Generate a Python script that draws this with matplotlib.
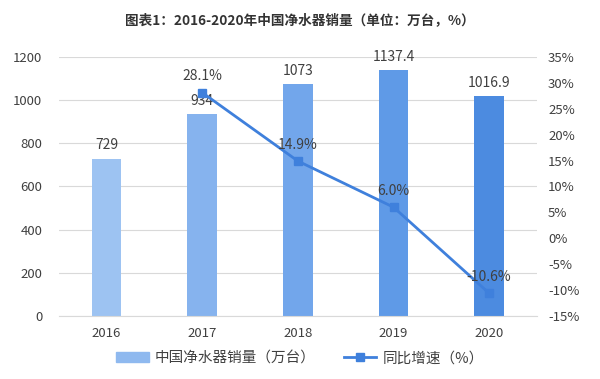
import matplotlib.pyplot as plt
from matplotlib.lines import Line2D
from matplotlib.patches import Patch

plt.rcParams['font.family'] = ['Noto Sans CJK SC', 'DejaVu Sans']

years = ["2016", "2017", "2018", "2019", "2020"]
sales = [729, 934, 1073, 1137.4, 1016.9]
sales_labels = ["729", "934", "1073", "1137.4", "1016.9"]
growth_years = ["2017", "2018", "2019", "2020"]
growth = [28.1, 14.9, 6.0, -10.6]

bar_colors = ["#9dc3f2", "#86b3ee", "#72a6eb", "#5f9ae7", "#4c8be0"]
line_color = "#3f80dc"
text_color = "#404040"

fig = plt.figure(figsize=(6, 3.79), dpi=100)
ax = fig.add_axes([0.098, 0.166, 0.797, 0.684])

x = list(range(len(years)))
bars = ax.bar(x, sales, width=0.31, color=bar_colors, zorder=2)
for i, b in enumerate(bars):
    ax.text(b.get_x() + b.get_width() / 2, b.get_height() + 30, sales_labels[i],
            ha="center", va="bottom", fontsize=10, color=text_color)

ax.set_ylim(0, 1200)
ax.set_yticks(range(0, 1201, 200))
ax.set_xlim(-0.5, 4.5)
ax.set_xticks(x)
ax.set_xticklabels(years, fontsize=9.5, color=text_color)
ax.tick_params(axis="y", labelsize=9.5, colors=text_color, length=0, pad=12)
ax.tick_params(axis="x", length=0, pad=8)
ax.grid(axis="y", color="#d9d9d9", linewidth=0.8, zorder=0)
for s in ["top", "right", "left"]:
    ax.spines[s].set_visible(False)
ax.spines["bottom"].set_color("#d9d9d9")

ax2 = ax.twinx()
gx = [years.index(y) for y in growth_years]
ax2.plot(gx, growth, color=line_color, linewidth=2, marker="s", markersize=6, zorder=3)
for xi, g in zip(gx, growth):
    ax2.text(xi, g + 1.8, f"{g:.1f}%", ha="center", va="bottom", fontsize=10, color=text_color)
ax2.set_ylim(-15, 35)
ax2.set_yticks(range(-15, 36, 5))
ax2.set_yticklabels([f"{v}%" for v in range(-15, 36, 5)])
ax2.tick_params(axis="y", labelsize=9.5, colors=text_color, length=0, pad=8)
for s in ["top", "right", "left", "bottom"]:
    ax2.spines[s].set_visible(False)

fig.text(0.5, 0.948, "图表1：2016-2020年中国净水器销量（单位：万台，%）",
         ha="center", va="center", fontsize=9.8, fontweight="bold", color="#333333")

handles = [Patch(color="#8fb9ef"),
           Line2D([0], [0], color=line_color, linewidth=2, marker="s", markersize=6)]
fig.legend(handles, ["中国净水器销量（万台）", "同比增速（%）"], loc="center",
           bbox_to_anchor=(0.5, 0.055), ncol=2, frameon=False, fontsize=10.5,
           handlelength=2.2, handletextpad=0.4, columnspacing=2.0, labelcolor=text_color)

fig.savefig("out.png", dpi=100)
